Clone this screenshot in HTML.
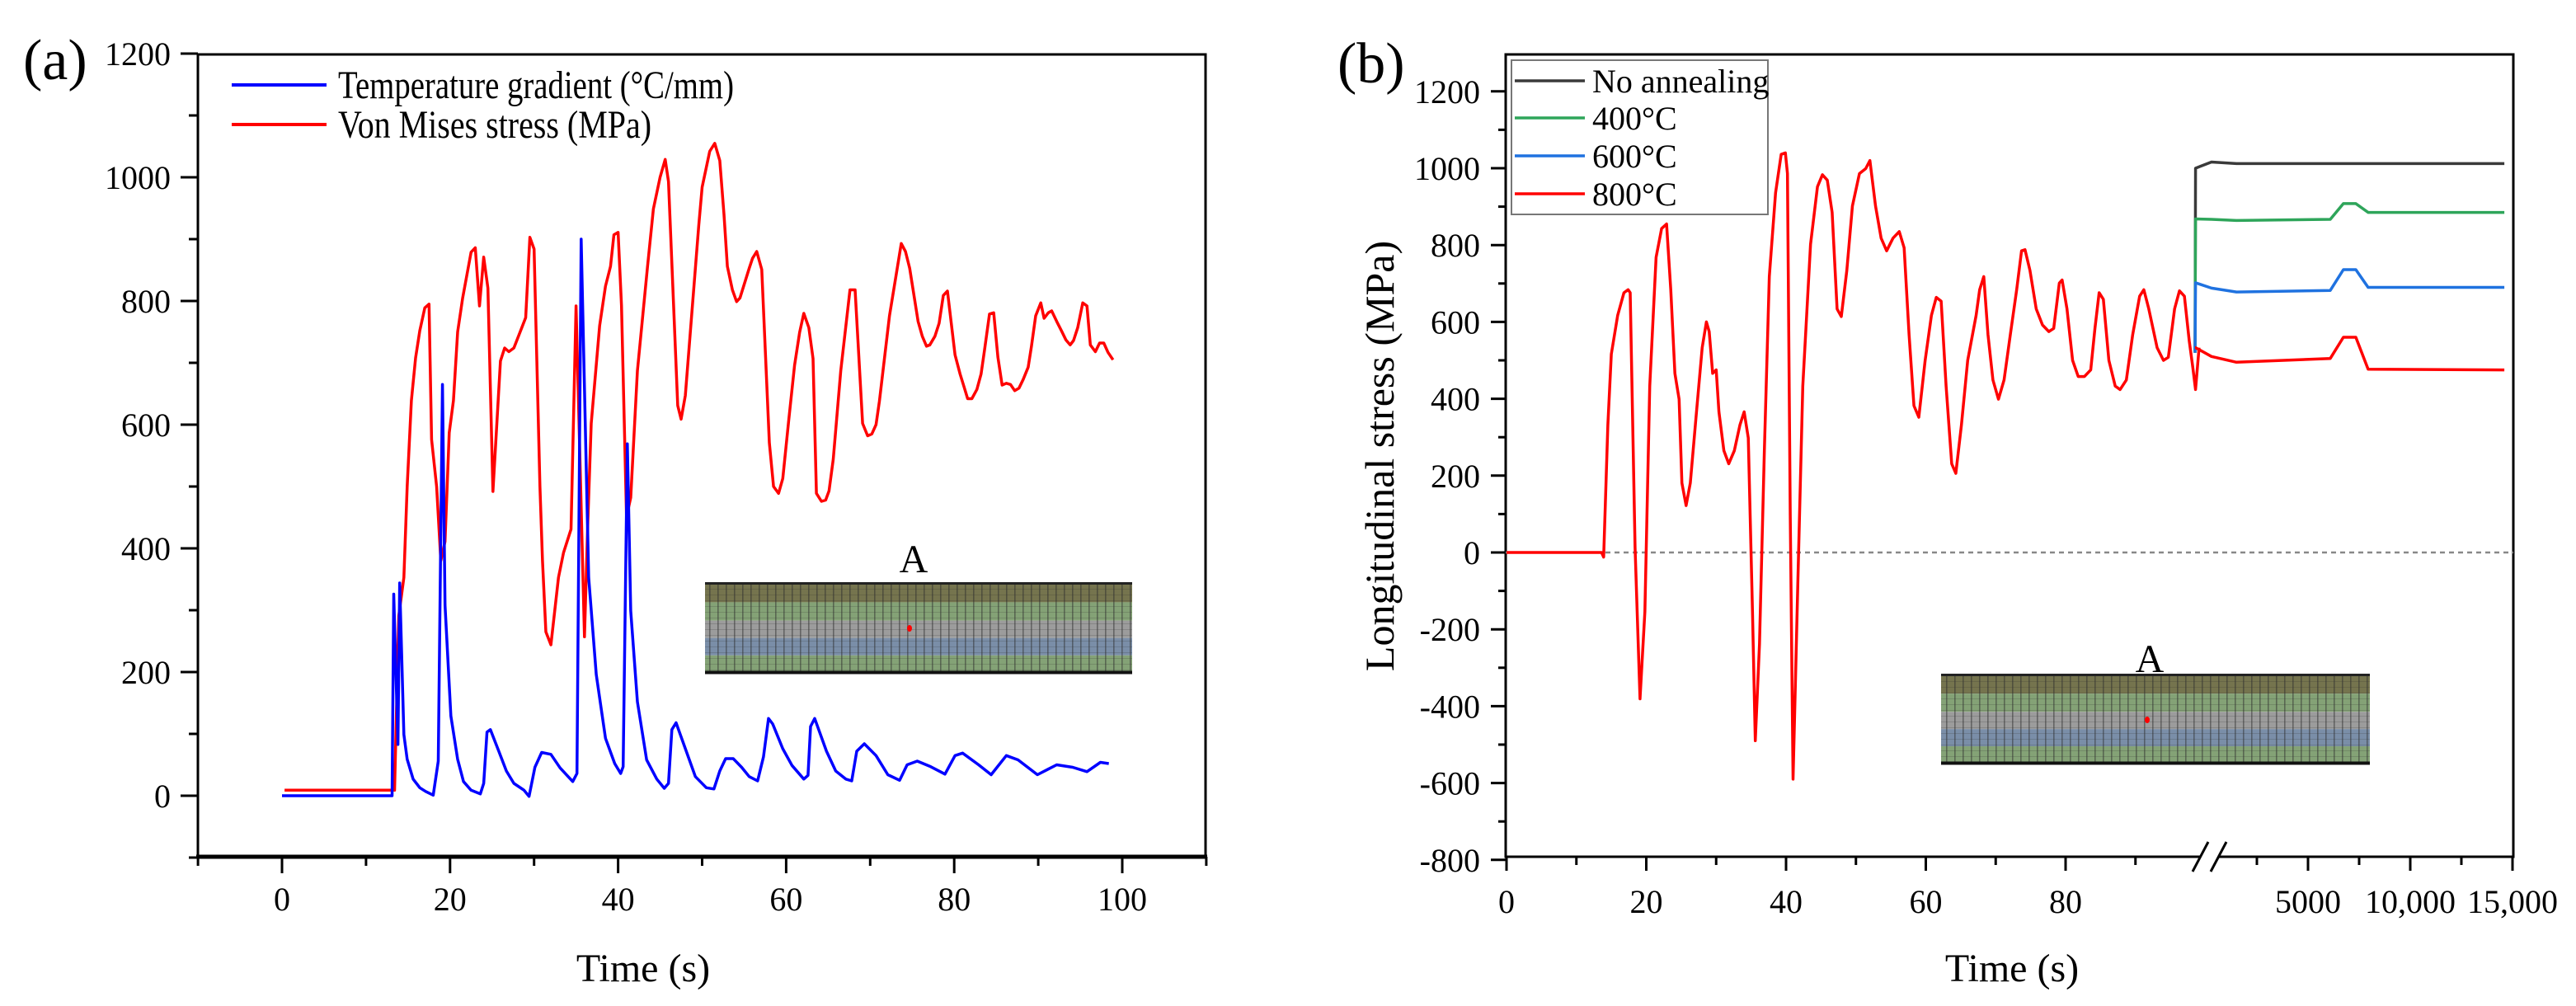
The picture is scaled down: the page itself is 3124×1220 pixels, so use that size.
<!DOCTYPE html>
<html><head><meta charset="utf-8"><title>Temperature gradient and stress charts</title>
<style>
html,body{margin:0;padding:0;background:#fff;}
svg{display:block;font-family:"Liberation Serif","DejaVu Serif",serif;}
</style></head>
<body>
<svg id="fig" width="3124" height="1220" viewBox="0 0 3124 1220" xmlns="http://www.w3.org/2000/svg">
<defs>
<pattern id="meshV" width="10" height="7" patternUnits="userSpaceOnUse">
<rect x="0" y="0" width="1.6" height="7" fill="#2b2b2b" opacity="0.5"/>
<rect x="0" y="0" width="10" height="1" fill="#2b2b2b" opacity="0.2"/>
</pattern>
</defs>
<rect width="3124" height="1220" fill="#fff"/>
<g id="panelA"></g>
<g id="panelB"></g>
</svg>
<script>
// ---------- Panel (a) data ----------
const aTempT = [0,13.1,13.3,13.8,14,14.5,14.9,15.6,16.4,17.1,18,18.6,19.1,19.4,20.1,20.9,21.6,22.5,23.6,24,24.4,24.8,25.8,26.7,27.6,28.8,29.4,30.1,30.9,32,33.1,34.6,35.1,35.6,36.5,37.4,38.5,39.6,40.3,40.6,41.1,41.5,42.3,43.4,44.6,45.5,46,46.4,46.9,47.9,49.2,50.5,51.4,52.1,52.8,53.7,54.7,55.6,56.6,57.3,57.9,58.4,59.6,60.7,62.1,62.6,62.9,63.4,64.8,65.9,67.1,67.8,68.4,69.3,70.7,72.1,73.5,74.4,75.6,77.2,78.9,80.1,81,82.9,84.4,86.2,87.6,89.9,92.2,94.1,95.8,97.4,98.4];
const aTempV = [0,0,326,83,344,99,59,27,13,7,1,56,665,308,129,59,23,9,3,20,103,107,72,40,20,9,-1,46,70,67,45,23,36,900,353,196,93,52,36,47,569,299,152,58,27,12,20,107,118,80,31,13,11,40,60,60,46,31,24,63,125,116,76,49,27,33,112,125,72,40,27,24,72,84,65,34,25,50,56,47,35,65,69,50,34,65,58,34,50,46,39,54,52];
const aStressT = [0.3,13.3,13.4,13.9,14.5,14.9,15.4,15.9,16.4,17,17.5,17.8,18.4,18.9,19.4,19.9,20.4,20.9,21.5,22.5,23,23.5,24,24.5,25.1,26,26.5,27,27.6,29,29.5,30,30.7,31,31.4,32,32.9,33.5,34.4,35,36,36.4,36.8,37.8,38.5,39.1,39.5,40,40.4,41,41.5,42.3,43.5,44.2,45,45.6,46,47.1,47.5,48,49.6,50,50.9,51.5,52.1,52.6,53,53.6,54.1,54.5,55.6,56,56.5,57.1,58,58.5,59.1,59.6,60.3,61,61.6,62.1,62.7,63.2,63.6,64.2,64.7,65.1,65.6,66.5,67.6,68.2,69.1,69.7,70.2,70.7,71.1,72.3,73.7,74.2,74.7,75.7,76.2,76.7,77.1,77.7,78.2,78.7,79.2,80.1,80.7,81.2,81.6,82.1,82.7,83.2,83.6,84.2,84.7,85.2,85.7,86.2,86.7,87.2,87.7,88.2,88.8,89.2,89.7,90.3,90.7,91.2,91.6,92.2,92.8,93.3,93.8,94.2,94.7,95.3,95.8,96.2,96.8,97.3,97.8,98.3,98.9];
const aStressV = [9,9,9,291,353,500,639,708,752,789,795,576,500,380,411,587,639,750,805,879,886,792,871,821,492,703,724,718,724,773,903,884,500,380,265,244,353,393,431,792,257,444,602,760,824,856,907,911,793,451,482,687,856,949,1000,1029,993,631,609,647,922,984,1042,1055,1027,940,856,818,799,805,853,869,880,851,571,500,489,513,607,696,749,780,757,707,489,476,478,493,544,687,818,818,602,582,585,600,638,776,893,880,853,767,743,727,729,743,764,809,816,713,682,660,642,642,657,682,720,779,781,709,664,667,665,655,659,673,693,727,776,797,772,781,784,767,751,737,729,736,757,797,792,729,718,732,732,717,705];
const aYTicks = [0,200,400,600,800,1000,1200];
const aXTicks = [0,20,40,60,80,100];

// ---------- Panel (b) data ----------
const bTimeT = [0,13.6,13.9,14.5,15,15.9,16.8,17.4,17.7,18.4,19.1,19.8,20.5,21.4,22.2,22.9,23.5,24.1,24.7,25.1,25.7,26.3,27.1,28,28.6,29,29.5,30,30.4,31.1,31.8,32.6,33.4,34,34.6,35.2,35.6,36.2,36.9,37.6,38.5,39.3,39.9,40.2,40.6,41,41.7,42.4,43.5,44.5,45.2,45.9,46.6,47.3,47.9,48.7,49.5,50.5,51.4,52,52.8,53.6,54.4,55.3,56.2,56.9,57.6,58.3,59,59.9,60.8,61.5,62.2,62.9,63.7,64.3,65.1,66,67.2,67.7,68.3,68.9,69.6,70.4,71.2,72.1,73,73.7,74.2,74.9,75.8,76.7,77.6,78.3,79.1,79.5,80.2,81,81.8,82.7,83.6,84.2,84.8,85.4,86.2,87.1,87.8,88.7,89.6,90.6,91.2,91.9,93.1,94,94.7,95.6,96.3,97,97.7,98.2,98.6,99.1];
const bStressV = [0,0,-12,332,516,617,676,684,676,13,-381,-154,433,768,843,855,684,466,399,181,122,181,349,533,600,575,466,475,366,265,231,265,332,366,298,-154,-490,-238,265,718,936,1036,1040,986,97,-590,-70,433,802,952,983,969,885,634,614,734,902,986,999,1020,902,818,785,818,835,793,567,382,352,500,617,664,654,433,231,206,332,500,617,684,718,567,449,399,449,567,684,785,788,734,634,592,575,583,701,709,634,500,458,458,475,583,676,659,500,433,424,449,567,667,684,634,533,500,508,634,681,667,550,483,424,533];
const annealS = [-524,-500,280,1500,6090,6730,7340,7940,14600];
const noAnnealV = [520,1000,1016,1012,1012,1012,1012,1012,1012];
const v400 = [520,868,867,864,867,908,908,885,885];
const v600 = [520,702,688,678,682,736,736,690,690];
const v800 = [533,533,510,495,505,560,560,477,475];
const bYTicks = [-800,-600,-400,-200,0,200,400,600,800,1000,1200];
const bXTicks1 = [0,20,40,60,80];
const bXTicks2 = [5000,10000,15000];
const bXLabels2 = ["5000","10,000","15,000"];
const legendLabels = ["No annealing","400\u00B0C","600\u00B0C","800\u00B0C"];

// ---------- helpers ----------
const NS = "http://www.w3.org/2000/svg";
function mk(parent, tag, attrs, text){
  const e = document.createElementNS(NS, tag);
  for (const k in attrs) e.setAttribute(k, attrs[k]);
  if (text !== undefined) e.textContent = text;
  parent.appendChild(e);
  return e;
}
const axA = t => 342 + 10.19 * t;
const ayA = v => 965 - 0.75 * v;
const axB = t => 1827 + 8.475 * t;
const axB2 = s => 2675 + 0.0248 * s;
const ayB = v => 670 - 0.466 * v;

function pathFrom(xs, ys, fx, fy){
  let d = "";
  for (let i = 0; i < xs.length; i++) d += (i ? "L" : "M") + fx(xs[i]).toFixed(1) + "," + fy(ys[i]).toFixed(1);
  return d;
}

function drawMesh(g, x, y, w, h, dotX, dotY, labelX, labelY){
  const fr = [0.22,0.2,0.19,0.19,0.2];
  const cols = ["#75744e","#84a276","#9c9c9c","#7a8ea8","#84a276"];
  let yy = y;
  for (let i = 0; i < 5; i++){
    const bh = h * fr[i];
    const r = mk(g, "rect", {x:x, y:yy, width:w, height:bh, fill:cols[i]});
    
    
    yy += bh;
  }
  const grid = mk(g, "rect", {x:x, y:y, width:w, height:h, fill:"url(#meshV)"});
  
  
  const bt = mk(g, "line", {x1:x, x2:x+w, y1:y+1.5, y2:y+1.5, stroke:"#222", "stroke-width":3});
  
  
  const bb = mk(g, "line", {x1:x, x2:x+w, y1:y+h-1.5, y2:y+h-1.5, stroke:"#111", "stroke-width":4});
  
  
  const dot = mk(g, "ellipse", {cx:dotX, cy:dotY, rx:3, ry:4, fill:"#ff0000"});
  
  
  const lab = mk(g, "text", {x:labelX, y:labelY, "font-size":48, "text-anchor":"middle"}, "A");
  
  
}

// ---------- Panel (a) ----------
(function(){
  const g = document.getElementById("panelA");
  const L = 240, R = 1462, T = 66, B = 1039;
  const frame = mk(g, "rect", {x:L, y:T, width:R-L, height:B-T, fill:"none", stroke:"#000", "stroke-width":3});
  
  
  const xl = mk(g, "line", {x1:L-2, x2:R+2, y1:B, y2:B, stroke:"#000", "stroke-width":5});
  
  
  for (let v = -100; v <= 1200; v += 100){
    const major = v % 200 === 0;
    const tk = mk(g, "line", {x1:L - (major ? 21 : 11), x2:L, y1:ayA(v), y2:ayA(v), stroke:"#000", "stroke-width":3});
    
    
  }
  aYTicks.forEach(v => {
    const t = mk(g, "text", {x:207, y:ayA(v)+14, "font-size":40, "text-anchor":"end"}, String(v));
    
    
  });
  for (let t = -10; t <= 110; t += 10){
    const major = t % 20 === 0;
    const tk = mk(g, "line", {x1:axA(t), x2:axA(t), y1:B, y2:B + (major ? 20 : 11), stroke:"#000", "stroke-width":3});
    
    
  }
  aXTicks.forEach(t => {
    const tx = mk(g, "text", {x:axA(t), y:1104, "font-size":40, "text-anchor":"middle"}, String(t));
    
    
  });
  const xt = mk(g, "text", {x:780, y:1190, "font-size":48, "text-anchor":"middle"}, "Time (s)");
  
  
  const pl = mk(g, "text", {x:28, y:96, "font-size":70}, "(a)");
  
  
  const ins = mk(g, "g", {});
  
  
  drawMesh(ins, 855, 706, 518, 111, 1103, 762, 1108, 694);
  const st = mk(g, "path", {d:pathFrom(aStressT, aStressV, axA, ayA), fill:"none", stroke:"#ff0000", "stroke-width":3.5, "stroke-linejoin":"round"});
  
  
  const tg = mk(g, "path", {d:pathFrom(aTempT, aTempV, axA, ayA), fill:"none", stroke:"#0000ff", "stroke-width":3.5, "stroke-linejoin":"round"});
  
  
  const lg = mk(g, "g", {});
  
  
  const l1 = mk(lg, "line", {x1:281, x2:396, y1:103, y2:103, stroke:"#0000ff", "stroke-width":4});
  
  
  const t1 = mk(lg, "text", {x:410, y:119, "font-size":48, textLength:480, lengthAdjust:"spacingAndGlyphs"}, "Temperature gradient (\u00B0C/mm)");
  
  
  const l2 = mk(lg, "line", {x1:281, x2:396, y1:151, y2:151, stroke:"#ff0000", "stroke-width":4});
  
  
  const t2 = mk(lg, "text", {x:410, y:167, "font-size":48, textLength:380, lengthAdjust:"spacingAndGlyphs"}, "Von Mises stress (MPa)");
  
  
})();

// ---------- Panel (b) ----------
(function(){
  const g = document.getElementById("panelB");
  const L = 1826, R = 3048, T = 66, B = 1039;
  const frame = mk(g, "rect", {x:L, y:T, width:R-L, height:B-T, fill:"none", stroke:"#000", "stroke-width":3});
  
  
  const zl = mk(g, "line", {x1:L, x2:R, y1:ayB(0), y2:ayB(0), stroke:"#888", "stroke-width":2.5, "stroke-dasharray":"6,5"});
  
  
  for (let v = -800; v <= 1200; v += 100){
    const major = v % 200 === 0;
    const tk = mk(g, "line", {x1:L - (major ? 18 : 9), x2:L, y1:ayB(v), y2:ayB(v), stroke:"#000", "stroke-width":3});
    
    
  }
  bYTicks.forEach(v => {
    const t = mk(g, "text", {x:1795, y:ayB(v)+14, "font-size":40, "text-anchor":"end"}, String(v));
    
    
  });
  for (let t = 0; t <= 90; t += 10){
    const major = t % 20 === 0;
    const tk = mk(g, "line", {x1:axB(t), x2:axB(t), y1:B, y2:B + (major ? 17 : 10), stroke:"#000", "stroke-width":3});
    
    
  }
  for (let s = 2500; s <= 15000; s += 2500){
    const major = s % 5000 === 0;
    const tk = mk(g, "line", {x1:axB2(s), x2:axB2(s), y1:B, y2:B + (major ? 17 : 10), stroke:"#000", "stroke-width":3});
    
    
  }
  bXTicks1.forEach(t => {
    const tx = mk(g, "text", {x:axB(t), y:1107, "font-size":40, "text-anchor":"middle"}, String(t));
    
    
  });
  bXTicks2.forEach((s, i) => {
    const tx = mk(g, "text", {x:axB2(s), y:1107, "font-size":40, "text-anchor":"middle"}, bXLabels2[i]);
    
    
  });
  const brk = mk(g, "g", {});
  
  
  mk(brk, "rect", {x:2668, y:B-4, width:22, height:8, fill:"#fff"});
  mk(brk, "line", {x1:2659, y1:1057, x2:2678, y2:1021, stroke:"#000", "stroke-width":3});
  mk(brk, "line", {x1:2681, y1:1057, x2:2700, y2:1021, stroke:"#000", "stroke-width":3});
  const xt = mk(g, "text", {x:2440, y:1190, "font-size":48, "text-anchor":"middle"}, "Time (s)");
  
  
  const yt = mk(g, "text", {x:0, y:0, "font-size":50, "text-anchor":"middle", transform:"translate(1690,553) rotate(-90)"}, "Longitudinal stress (MPa)");
  
  
  const pl = mk(g, "text", {x:1622, y:100, "font-size":70}, "(b)");
  
  
  const ins = mk(g, "g", {});
  
  
  drawMesh(ins, 2354, 817, 520, 110, 2604, 873, 2607, 815);
  const series = [
    {v:noAnnealV, c:"#3a3a3a", n:"no-annealing-line"},
    {v:v400, c:"#2ea55a", n:"anneal-400c-line"},
    {v:v600, c:"#1f72e0", n:"anneal-600c-line"}
  ];
  series.forEach(s => {
    const p = mk(g, "path", {d:pathFrom(annealS, s.v, axB2, ayB), fill:"none", stroke:s.c, "stroke-width":3.5, "stroke-linejoin":"round"});
    
    
  });
  const main = mk(g, "path", {d:pathFrom(bTimeT, bStressV, axB, ayB), fill:"none", stroke:"#ff0000", "stroke-width":3.5, "stroke-linejoin":"round"});
  
  
  const r8 = mk(g, "path", {d:pathFrom(annealS, v800, axB2, ayB), fill:"none", stroke:"#ff0000", "stroke-width":3.5, "stroke-linejoin":"round"});
  
  
  const lg = mk(g, "g", {});
  
  
  const box = mk(lg, "rect", {x:1833, y:73, width:311, height:187, fill:"#fff", stroke:"#777", "stroke-width":2});
  
  
  const lc = ["#3a3a3a","#2ea55a","#1f72e0","#ff0000"];
  const ly = [98,143,189,235];
  legendLabels.forEach((lab, i) => {
    const ln = mk(lg, "line", {x1:1837, x2:1922, y1:ly[i], y2:ly[i], stroke:lc[i], "stroke-width":3.5});
    
    
    const tx = mk(lg, "text", {x:1931, y:ly[i]+14, "font-size":40}, lab);
    
    
  });
})();
</script>
</body></html>
